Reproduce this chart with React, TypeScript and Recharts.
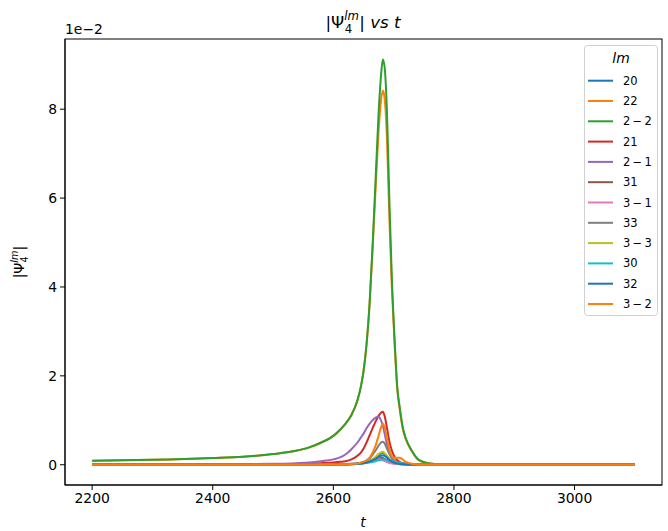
import React from 'react';
import { LineChart, Line, XAxis, YAxis, Customized } from 'recharts';

const T = [
  2200, 2300, 2400, 2450, 2500, 2540, 2560, 2580, 2600, 2612,
  2620, 2630, 2640, 2646, 2650, 2655, 2660, 2665, 2670, 2675,
  2679, 2682, 2685, 2689, 2693, 2697, 2702, 2706, 2710, 2715,
  2720, 2730, 2740, 2750, 2760, 2780, 2800, 2900, 3000, 3100,
];

const m20 = [
  0.01, 0.01, 0.01, 0.01, 0.01, 0.01, 0.01, 0.01, 0.01, 0.01,
  0.01, 0.015, 0.02, 0.03, 0.04, 0.06, 0.08, 0.12, 0.16, 0.21,
  0.25, 0.26, 0.24, 0.18, 0.12, 0.08, 0.05, 0.03, 0.02, 0.015,
  0.01, 0.01, 0.01, 0.01, 0.01, 0.01, 0.01, 0.01, 0.01, 0.01,
];
const m22 = [
  0.09, 0.11, 0.15, 0.18, 0.24, 0.32, 0.39, 0.5, 0.65, 0.8,
  0.92, 1.12, 1.45, 1.78, 2.1, 2.7, 3.6, 4.85, 6.2, 7.5,
  8.2, 8.42, 8.25, 7.3, 5.5, 4.0, 2.6, 1.7, 1.25, 0.82,
  0.58, 0.31, 0.12, 0.06, 0.03, 0.01, 0.005, 0.003, 0.003, 0.003,
];
const m2n2 = [
  0.09, 0.11, 0.15, 0.18, 0.24, 0.32, 0.39, 0.5, 0.65, 0.8,
  0.92, 1.12, 1.45, 1.78, 2.1, 2.7, 3.6, 4.9, 6.4, 7.9,
  8.75, 9.12, 8.95, 7.9, 5.9, 4.2, 2.7, 1.75, 1.3, 0.85,
  0.6, 0.32, 0.13, 0.06, 0.03, 0.01, 0.005, 0.003, 0.003, 0.003,
];
const m21 = [
  0, 0, 0.005, 0.008, 0.01, 0.02, 0.025, 0.035, 0.05, 0.065,
  0.08, 0.12, 0.2, 0.28, 0.36, 0.5, 0.66, 0.82, 0.97, 1.1,
  1.17, 1.19, 1.1, 0.82, 0.52, 0.32, 0.17, 0.1, 0.06, 0.04,
  0.02, 0.01, 0.005, 0, 0, 0, 0, 0, 0, 0,
];
const m2n1 = [
  0, 0.003, 0.008, 0.012, 0.02, 0.035, 0.05, 0.08, 0.12, 0.17,
  0.23, 0.35, 0.5, 0.62, 0.7, 0.82, 0.92, 1.0, 1.06, 1.08,
  1.0, 0.88, 0.7, 0.45, 0.27, 0.15, 0.08, 0.05, 0.03, 0.02,
  0.01, 0.005, 0, 0, 0, 0, 0, 0, 0, 0,
];
const m31 = [
  0, 0, 0, 0, 0, 0, 0, 0.005, 0.01, 0.012,
  0.015, 0.02, 0.03, 0.04, 0.05, 0.06, 0.08, 0.1, 0.12, 0.14,
  0.15, 0.15, 0.13, 0.1, 0.07, 0.05, 0.03, 0.02, 0.015, 0.01,
  0.008, 0.005, 0, 0, 0, 0, 0, 0, 0, 0,
];
const m3n1 = [
  0, 0, 0, 0, 0, 0, 0, 0.005, 0.01, 0.012,
  0.015, 0.02, 0.03, 0.04, 0.05, 0.065, 0.08, 0.1, 0.12, 0.13,
  0.12, 0.1, 0.08, 0.06, 0.04, 0.03, 0.02, 0.015, 0.01, 0.008,
  0.005, 0.003, 0, 0, 0, 0, 0, 0, 0, 0,
];
const m33 = [
  0, 0, 0, 0, 0, 0, 0, 0, 0.005, 0.008,
  0.01, 0.015, 0.03, 0.045, 0.06, 0.09, 0.14, 0.22, 0.32, 0.43,
  0.5, 0.52, 0.48, 0.36, 0.24, 0.15, 0.08, 0.05, 0.03, 0.02,
  0.01, 0.005, 0, 0, 0, 0, 0, 0, 0, 0,
];
const m3n3 = [
  0, 0, 0, 0, 0, 0, 0, 0, 0.003, 0.004,
  0.005, 0.008, 0.016, 0.025, 0.033, 0.05, 0.08, 0.12, 0.18, 0.24,
  0.28, 0.29, 0.26, 0.2, 0.13, 0.08, 0.045, 0.03, 0.02, 0.01,
  0.005, 0.003, 0, 0, 0, 0, 0, 0, 0, 0,
];
const m30 = [
  0.005, 0.005, 0.005, 0.005, 0.005, 0.005, 0.005, 0.005, 0.008, 0.01,
  0.012, 0.015, 0.02, 0.025, 0.03, 0.04, 0.05, 0.06, 0.08, 0.1,
  0.11, 0.12, 0.12, 0.11, 0.1, 0.09, 0.07, 0.05, 0.04, 0.03,
  0.02, 0.01, 0.005, 0.005, 0.005, 0.005, 0.005, 0.005, 0.005, 0.005,
];
const m32 = [
  0, 0, 0, 0, 0, 0, 0, 0, 0.003, 0.005,
  0.007, 0.01, 0.02, 0.03, 0.04, 0.05, 0.07, 0.1, 0.13, 0.17,
  0.2, 0.21, 0.2, 0.16, 0.11, 0.07, 0.04, 0.025, 0.015, 0.01,
  0.005, 0, 0, 0, 0, 0, 0, 0, 0, 0,
];
const m3n2 = [
  0, 0, 0, 0, 0, 0, 0, 0, 0.005, 0.008,
  0.01, 0.015, 0.03, 0.05, 0.07, 0.1, 0.16, 0.27, 0.43, 0.65,
  0.84, 0.92, 0.85, 0.6, 0.35, 0.2, 0.15, 0.16, 0.16, 0.12,
  0.07, 0.02, 0.005, 0, 0, 0, 0, 0, 0, 0,
];

const X_TICKS = [2200, 2400, 2600, 2800, 3000];
const Y_TICKS = [0, 2, 4, 6, 8];

const SERIES = [
  { key: 'm20', label: '20', color: '#1f77b4', values: m20 },
  { key: 'm22', label: '22', color: '#ff7f0e', values: m22 },
  { key: 'm2n2', label: '2\u2009\u2212\u20092', color: '#2ca02c', values: m2n2 },
  { key: 'm21', label: '21', color: '#d62728', values: m21 },
  { key: 'm2n1', label: '2\u2009\u2212\u20091', color: '#9467bd', values: m2n1 },
  { key: 'm31', label: '31', color: '#8c564b', values: m31 },
  { key: 'm3n1', label: '3\u2009\u2212\u20091', color: '#e377c2', values: m3n1 },
  { key: 'm33', label: '33', color: '#7f7f7f', values: m33 },
  { key: 'm3n3', label: '3\u2009\u2212\u20093', color: '#bcbd22', values: m3n3 },
  { key: 'm30', label: '30', color: '#17becf', values: m30 },
  { key: 'm32', label: '32', color: '#1f77b4', values: m32 },
  { key: 'm3n2', label: '3\u2009\u2212\u20092', color: '#ff7f0e', values: m3n2 },
];

const data = T.map((t, i) => {
  const row: Record<string, number> = { t };
  SERIES.forEach((s) => {
    row[s.key] = s.values[i];
  });
  return row;
});

const FONT = 'DejaVu Sans, sans-serif';

const Overlay = () => (
  <g fontFamily={FONT} fill="#000">
    {/* axes frame (top and right spines) */}
    <rect x={65} y={39} width={597} height={446} fill="none" stroke="#000" strokeWidth={1} />
    {/* title */}
    <text x={363} y={28} textAnchor="middle" fontSize={16.7}>
      <tspan>|Ψ</tspan>
      <tspan fontSize={11.7} fontStyle="italic" dy={-8}>lm</tspan>
      <tspan fontSize={11.7} dx={-14} dy={13}>4</tspan>
      <tspan dx={7} dy={-5}>|</tspan>
      <tspan fontStyle="italic">{' vs t'}</tspan>
    </text>
    {/* offset text */}
    <text x={65} y={34} fontSize={13.9}>1e−2</text>
    {/* x label */}
    <text x={363} y={527} textAnchor="middle" fontSize={13.9} fontStyle="italic">t</text>
    {/* y label */}
    <text
      transform="translate(24,262) rotate(-90)"
      textAnchor="middle"
      fontSize={13.9}
    >
      <tspan>|Ψ</tspan>
      <tspan fontSize={9.7} fontStyle="italic" dy={-6}>lm</tspan>
      <tspan fontSize={9.7} dx={-12} dy={10}>4</tspan>
      <tspan dx={6} dy={-4}>|</tspan>
    </text>
    {/* legend */}
    <rect x={584.5} y={45.5} width={73} height={270} rx={3} fill="#fff" fillOpacity={0.8} stroke="#d0d0d0" />
    <text x={621} y={63} textAnchor="middle" fontSize={13.9} fontStyle="italic">lm</text>
    {SERIES.map((s, i) => {
      const y = 80.7 + i * 20.3;
      return (
        <g key={s.key}>
          <line x1={588} x2={613} y1={y} y2={y} stroke={s.color} strokeWidth={2} />
          <text x={623} y={y + 4} fontSize={11.5}>{s.label}</text>
        </g>
      );
    })}
  </g>
);

export default function App() {
  return (
    <div style={{ position: 'absolute', left: 0, top: 0, background: '#fff' }}>
      <LineChart
        width={668}
        height={531}
        data={data}
        margin={{ top: 39, right: 6, bottom: 0, left: 0 }}
      >
        <XAxis
          dataKey="t"
          type="number"
          domain={[2155, 3145]}
          ticks={X_TICKS}
          allowDataOverflow
          height={46}
          tickSize={5}
          tickMargin={3}
          stroke="#000"
          tick={{ fill: '#000', fontSize: 13.9, fontFamily: FONT }}
        />
        <YAxis
          type="number"
          domain={[-0.456, 9.58]}
          ticks={Y_TICKS}
          allowDataOverflow
          width={65}
          tickSize={5}
          tickMargin={3}
          stroke="#000"
          tick={{ fill: '#000', fontSize: 13.9, fontFamily: FONT }}
        />
        {SERIES.map((s) => (
          <Line
            key={s.key}
            type="monotone"
            dataKey={s.key}
            stroke={s.color}
            strokeWidth={2}
            dot={false}
            activeDot={false}
            isAnimationActive={false}
          />
        ))}
        <Customized component={Overlay} />
      </LineChart>
    </div>
  );
}
